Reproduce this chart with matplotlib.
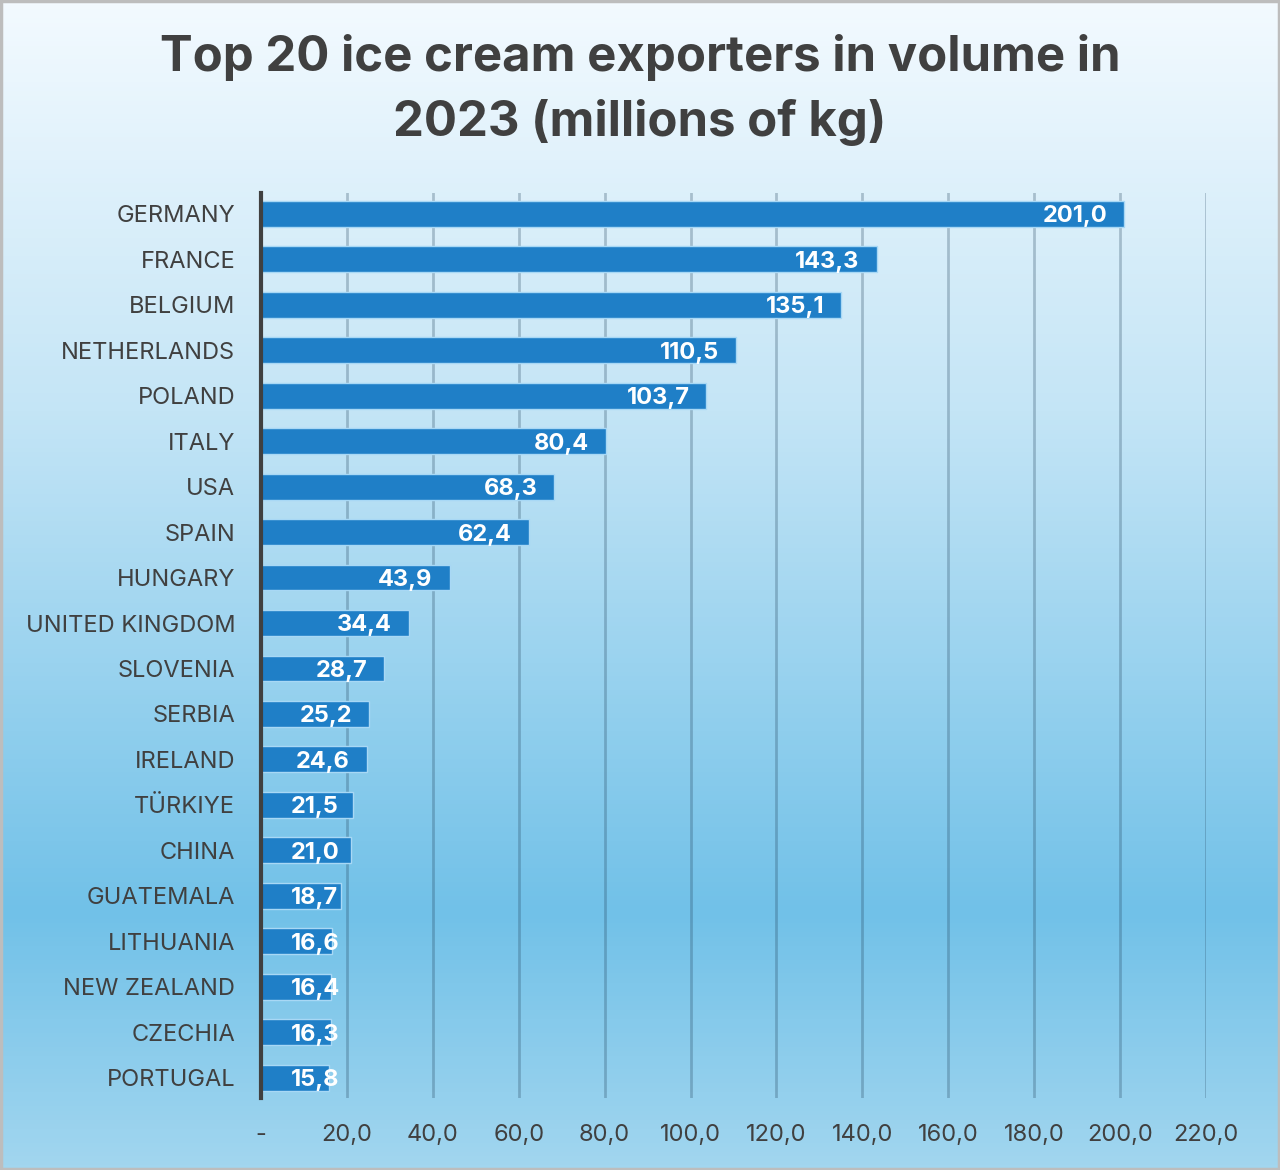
import matplotlib
matplotlib.use('Agg')
import matplotlib.pyplot as plt
import numpy as np
from matplotlib.colors import LinearSegmentedColormap
from matplotlib.patches import Rectangle

countries = ['GERMANY', 'FRANCE', 'BELGIUM', 'NETHERLANDS', 'POLAND', 'ITALY',
             'USA', 'SPAIN', 'HUNGARY', 'UNITED KINGDOM', 'SLOVENIA', 'SERBIA',
             'IRELAND', 'TÜRKIYE', 'CHINA', 'GUATEMALA', 'LITHUANIA',
             'NEW ZEALAND', 'CZECHIA', 'PORTUGAL']
volumes = [201.0, 143.3, 135.1, 110.5, 103.7, 80.4, 68.3, 62.4, 43.9, 34.4,
           28.7, 25.2, 24.6, 21.5, 21.0, 18.7, 16.6, 16.4, 16.3, 15.8]
ticks = [0, 20, 40, 60, 80, 100, 120, 140, 160, 180, 200, 220]
tick_labels = ['-'] + ['%.1f' % t for t in ticks[1:]]
tick_labels = [t.replace('.', ',') for t in tick_labels]

TEXT = '#404040'
BAR = '#1f7fc7'
FONT = 'Inter'

fig = plt.figure(figsize=(12.8, 11.7), dpi=100)

# background gradient over the whole figure
bg = fig.add_axes([0, 0, 1, 1], zorder=-10)
cmap = LinearSegmentedColormap.from_list(
    'bg', [(0.0, '#f3faff'), (0.35, '#c4e5f6'), (0.78, '#71c1e8'), (1.0, '#a2d6ef')])
grad = np.linspace(0, 1, 256).reshape(-1, 1)
bg.imshow(grad, aspect='auto', cmap=cmap, extent=[0, 1, 0, 1], origin='upper')
bg.add_patch(Rectangle((0.001, 0.001), 0.998, 0.998, fill=False,
                       edgecolor='#bdbdbd', linewidth=2.5))
bg.set_xlim(0, 1)
bg.set_ylim(0, 1)
bg.axis('off')

ax = fig.add_axes([261 / 1280, 1 - 1098 / 1170, (1206 - 261) / 1280, (1098 - 193) / 1170])
ax.patch.set_alpha(0)

y = np.arange(len(countries))
ax.barh(y, volumes, height=0.57, color=BAR, edgecolor='#a8d8f5', linewidth=1, zorder=3)

ax.set_xlim(0, 220)
ax.set_ylim(len(countries) - 0.55, -0.46)
ax.set_xticks(ticks)
ax.set_xticklabels(tick_labels)
ax.set_yticks(y)
ax.set_yticklabels(countries)
ax.tick_params(axis='both', length=0, colors=TEXT, labelsize=17)
ax.tick_params(axis='y', pad=18.5)
ax.tick_params(axis='x', pad=19)
for lab in ax.get_xticklabels() + ax.get_yticklabels():
    lab.set_fontfamily(FONT)

for x in ticks[1:]:
    ax.axvline(x, color='#1f3f58', alpha=0.28, linewidth=2, zorder=1)

for s in ['top', 'right', 'bottom']:
    ax.spines[s].set_visible(False)
ax.spines['left'].set_color(TEXT)
ax.spines['left'].set_linewidth(3)
ax.spines['left'].set_zorder(5)

# value labels: inside end, but never closer than ~30 px to the axis
for i, v in enumerate(volumes):
    txt = ('%.1f' % v).replace('.', ',')
    if v >= 22.6:
        ax.annotate(txt, (v, i), xytext=(-17, 0), textcoords='offset pixels',
                    ha='right', va='center_baseline', color='white', fontsize=17,
                    fontweight='bold', fontfamily=FONT, zorder=6)
    else:
        ax.annotate(txt, (0, i), xytext=(30, 0), textcoords='offset pixels',
                    ha='left', va='center_baseline', color='white', fontsize=17,
                    fontweight='bold', fontfamily=FONT, zorder=6)

fig.text(0.5, 1 - 90 / 1170, 'Top 20 ice cream exporters in volume in\n2023 (millions of kg)',
         ha='center', va='center', fontsize=35.3, fontweight='bold', color=TEXT,
         fontfamily=FONT, linespacing=1.48)

plt.savefig('out.png', dpi=100)
